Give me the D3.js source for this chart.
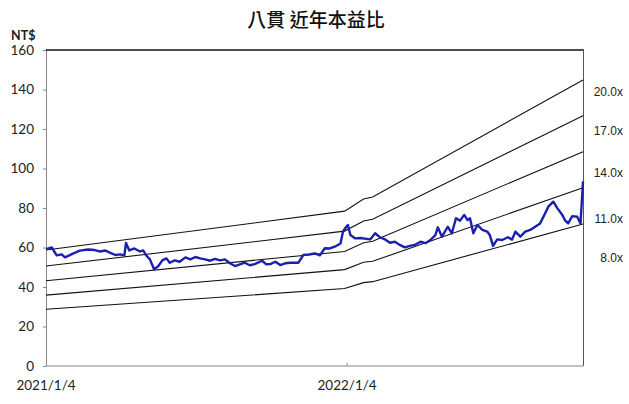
<!DOCTYPE html>
<html>
<head>
<meta charset="utf-8">
<script src="https://cdn.jsdelivr.net/npm/d3@7"></script>
<style>
  body { margin: 0; background: #fff; }
  svg { display: block; }
  .tick text { font-family: Lato, "Open Sans", sans-serif; font-size: 13.5px; fill: #222; }
</style>
</head>
<body>
<svg id="chart" width="629" height="404"></svg>
<script>
// price data (daily close, sampled)
var priceDates = ["2021-01-04","2021-01-11","2021-01-17","2021-01-23","2021-01-27","2021-02-05","2021-02-14","2021-02-24","2021-03-04","2021-03-10",
  "2021-03-17","2021-03-23","2021-03-29","2021-04-04","2021-04-09","2021-04-11","2021-04-15","2021-04-21","2021-04-28","2021-05-02",
  "2021-05-05","2021-05-10","2021-05-15","2021-05-20","2021-05-25","2021-05-30","2021-06-03","2021-06-09","2021-06-15","2021-06-22",
  "2021-06-28","2021-07-04","2021-07-10","2021-07-16","2021-07-22","2021-07-28","2021-08-03","2021-08-09","2021-08-15","2021-08-21",
  "2021-08-27","2021-09-02","2021-09-08","2021-09-14","2021-09-23","2021-09-28","2021-10-03","2021-10-09","2021-10-15","2021-10-21",
  "2021-10-27","2021-11-06","2021-11-12","2021-11-19","2021-11-26","2021-12-02","2021-12-08","2021-12-14","2021-12-20","2021-12-27",
  "2021-12-30","2022-01-03","2022-01-05","2022-01-08","2022-01-14","2022-01-20","2022-02-01","2022-02-07","2022-02-13","2022-02-19",
  "2022-02-25","2022-03-03","2022-03-09","2022-03-15","2022-03-21","2022-03-27","2022-04-03","2022-04-09","2022-04-15","2022-04-21",
  "2022-04-24","2022-04-29","2022-05-06","2022-05-11","2022-05-16","2022-05-21","2022-05-26","2022-05-30","2022-06-02","2022-06-06",
  "2022-06-11","2022-06-17","2022-06-23","2022-06-26","2022-06-30","2022-07-05","2022-07-11","2022-07-18","2022-07-23","2022-07-27",
  "2022-08-02","2022-08-08","2022-08-14","2022-08-20","2022-08-26","2022-09-01","2022-09-05","2022-09-11","2022-09-16","2022-09-22",
  "2022-09-25","2022-09-29","2022-10-04","2022-10-10","2022-10-14","2022-10-17"];
var priceValues = [59.2,60.0,56.0,56.5,55.0,56.8,58.4,59.0,58.7,58.0,
  58.5,57.3,56.2,56.5,56.0,62.3,58.5,59.5,58.0,58.5,
  56.2,54.0,49.0,50.5,53.5,54.5,52.3,53.5,52.8,55.0,
  54.0,55.2,54.5,54.0,53.3,54.2,53.5,54.0,52.0,50.6,
  51.5,52.3,51.0,51.6,53.3,51.5,51.6,52.8,51.1,52.0,
  52.3,52.3,56.2,56.5,57.0,56.0,59.6,59.5,60.4,62.0,
  68.0,70.5,71.4,66.3,64.6,64.8,64.1,67.2,65.1,64.1,
  62.4,62.9,61.3,60.1,60.8,61.3,62.9,62.2,63.8,66.3,
  70.2,65.5,70.5,67.2,74.8,73.6,76.5,73.9,74.8,67.2,
  71.4,68.9,68.0,66.3,60.8,64.1,63.8,65.2,64.0,68.0,
  65.5,68.0,68.9,70.5,72.2,77.2,80.7,83.2,79.8,76.5,
  73.9,72.2,75.9,75.6,72.2,93.5];

// P/E band lines
var bandDates = ["2021-01-04","2022-01-01","2022-01-24","2022-02-04","2022-10-17"];
var band20 = [58.7, 78.4, 84.6, 85.6, 144.8];
var band17 = [50.6, 68.3, 73.4, 74.3, 126.7];
var band14 = [43.2, 58.0, 62.4, 63.2, 108.5];
var band11 = [35.9, 48.8, 52.5, 53.0, 90.3];
var band8  = [28.7, 39.2, 42.2, 42.7, 71.9];
var bandLabels = ["20.0x", "17.0x", "14.0x", "11.0x", "8.0x"];
var bandLabelValues = [138.7, 119.0, 97.7, 74.4, 54.7];

var yTicks = [0, 20, 40, 60, 80, 100, 120, 140, 160];
var xTickDates = ["2021-01-04", "2022-01-04"];
var xTickLabels = ["2021/1/4", "2022/1/4"];
var title = "八貫 近年本益比";

var parse = d3.timeParse("%Y-%m-%d");
var svg = d3.select("#chart");

var plotLeft = 46, plotRight = 583, plotTop = 50, plotBottom = 366;

var x = d3.scaleTime()
  .domain([parse(priceDates[0]), parse(priceDates[priceDates.length - 1])])
  .range([plotLeft, plotRight]);
var y = d3.scaleLinear().domain([0, 160]).range([plotBottom, plotTop]);

// title
svg.append("text")
  .attr("x", 316).attr("y", 27)
  .attr("text-anchor", "middle")
  .style("font-family", "'Noto Sans CJK TC', sans-serif")
  .style("font-size", "19px")
  .style("font-weight", "500")
  .style("fill", "#111")
  .text(title);

// unit
svg.append("text")
  .attr("x", 11).attr("y", 40)
  .style("font-family", "Lato, sans-serif")
  .style("font-size", "12.5px")
  .style("font-weight", "bold")
  .style("fill", "#222")
  .text("NT$");

// y axis
var yAxis = svg.append("g")
  .attr("transform", "translate(" + plotLeft + ",0)")
  .call(d3.axisLeft(y).tickValues(yTicks).tickSize(3).tickPadding(9).tickSizeOuter(0));
yAxis.select(".domain").attr("stroke", "#888");
yAxis.selectAll(".tick line").attr("stroke", "#888");

// x axis baseline + labels
svg.append("line")
  .attr("x1", plotLeft).attr("x2", plotRight)
  .attr("y1", plotBottom).attr("y2", plotBottom)
  .attr("stroke", "#888");
svg.selectAll(".xtick")
  .data(xTickDates.slice(1))
  .enter().append("line")
  .attr("x1", function(d) { return x(parse(d)); })
  .attr("x2", function(d) { return x(parse(d)); })
  .attr("y1", plotBottom).attr("y2", plotBottom - 3)
  .attr("stroke", "#888");
svg.selectAll(".xlabel")
  .data(xTickDates)
  .enter().append("text")
  .attr("x", function(d) { return x(parse(d)); })
  .attr("y", 390)
  .attr("text-anchor", "middle")
  .style("font-family", "Lato, sans-serif")
  .style("font-size", "13.5px")
  .style("fill", "#222")
  .text(function(d, i) { return xTickLabels[i]; });

// top and right border
svg.append("line")
  .attr("x1", plotLeft).attr("x2", plotRight + 1)
  .attr("y1", plotTop).attr("y2", plotTop)
  .attr("stroke", "#111").attr("stroke-width", 1.5);
svg.append("line")
  .attr("x1", plotRight + 0.5).attr("x2", plotRight + 0.5)
  .attr("y1", plotTop).attr("y2", plotBottom)
  .attr("stroke", "#555");

var line = d3.line()
  .x(function(d) { return x(d[0]); })
  .y(function(d) { return y(d[1]); });

// bands
var bands = [band20, band17, band14, band11, band8];
bands.forEach(function(vals) {
  var pts = vals.map(function(v, i) { return [parse(bandDates[i]), v]; });
  svg.append("path")
    .datum(pts)
    .attr("d", line)
    .attr("fill", "none")
    .attr("stroke", "#111")
    .attr("stroke-width", 1.1);
});

svg.selectAll(".blabel")
  .data(bandLabels)
  .enter().append("text")
  .attr("x", 623)
  .attr("y", function(d, i) { return y(bandLabelValues[i]); })
  .attr("dy", "0.35em")
  .attr("text-anchor", "end")
  .style("font-family", "'Liberation Sans', Arial, sans-serif")
  .style("font-size", "12px")
  .style("fill", "#222")
  .text(function(d) { return d; });

// price line
var pricePts = priceValues.map(function(v, i) { return [parse(priceDates[i]), v]; });
svg.append("path")
  .datum(pricePts)
  .attr("d", line)
  .attr("fill", "none")
  .attr("stroke", "#1a1fb0")
  .attr("stroke-width", 2.4)
  .attr("stroke-linejoin", "round");
</script>
</body>
</html>
